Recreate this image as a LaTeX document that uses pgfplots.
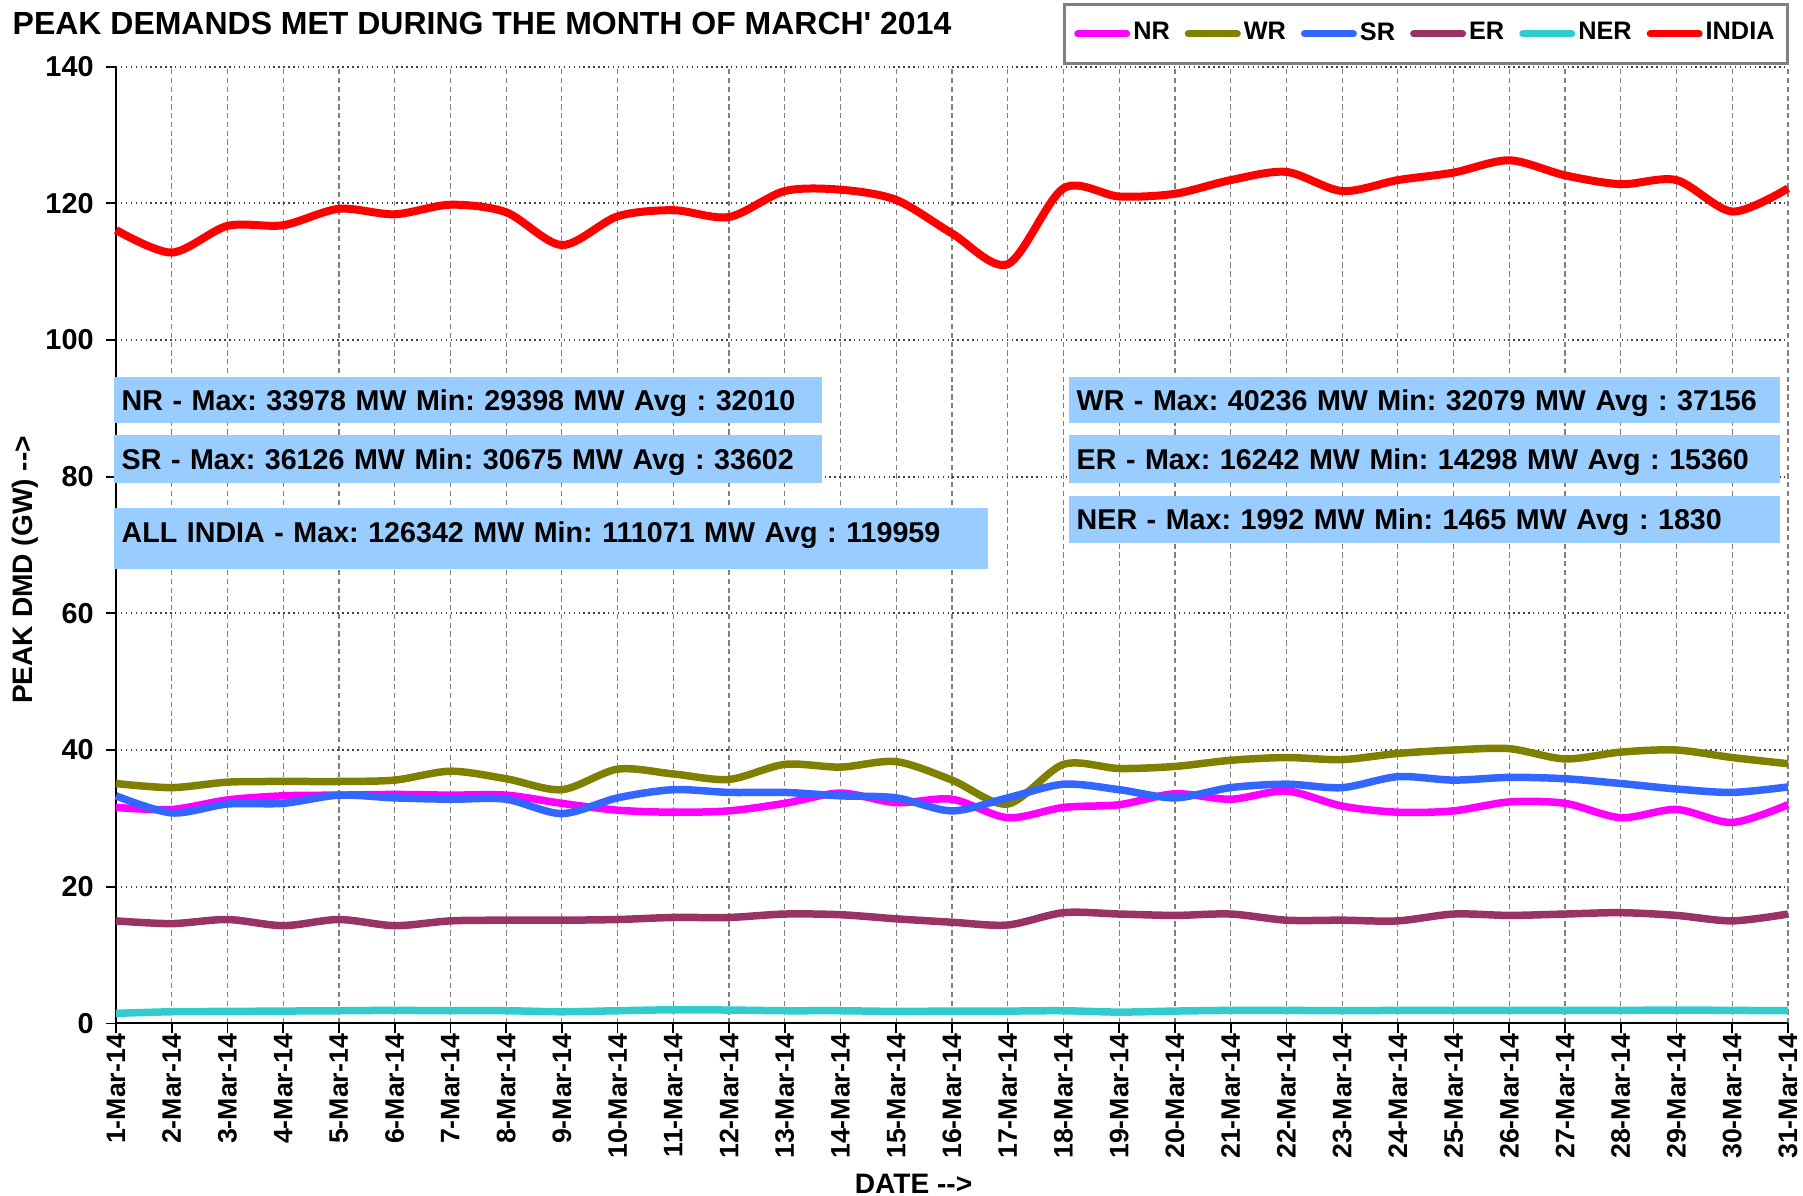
\documentclass[border=0pt]{standalone}
\usepackage{fontspec}
\setmainfont{Liberation Sans}
\usepackage{pgfplots}
\pgfplotsset{compat=1.18}
\definecolor{cNR}{HTML}{FF00FF}
\definecolor{cWR}{HTML}{808000}
\definecolor{cSR}{HTML}{3366FF}
\definecolor{cER}{HTML}{993366}
\definecolor{cNER}{HTML}{33CCCC}
\definecolor{cIN}{HTML}{FF0000}
\definecolor{boxblue}{HTML}{99CCFF}
\pgfplotstableread{
d NR WR SR ER NER IN
1 31.6 35.1 33.3 15.0 1.47 116.1
2 31.3 34.5 30.8 14.6 1.70 112.8
3 32.7 35.3 32.1 15.2 1.75 116.7
4 33.3 35.4 32.2 14.3 1.80 116.8
5 33.4 35.4 33.4 15.2 1.85 119.2
6 33.5 35.6 33.0 14.3 1.90 118.4
7 33.4 36.9 32.8 15.0 1.85 119.8
8 33.4 35.8 32.8 15.1 1.85 118.7
9 32.2 34.2 30.7 15.1 1.70 113.9
10 31.2 37.2 33.0 15.2 1.85 118.1
11 30.9 36.5 34.2 15.5 1.99 119.0
12 31.1 35.7 33.8 15.5 1.95 118.0
13 32.2 37.9 33.8 16.0 1.85 121.8
14 33.7 37.5 33.3 15.9 1.85 122.0
15 32.3 38.3 33.0 15.3 1.75 120.5
16 32.8 35.6 31.1 14.8 1.80 115.6
17 30.1 32.1 33.0 14.4 1.80 111.1
18 31.6 37.9 35.0 16.2 1.85 122.2
19 32.0 37.3 34.2 16.0 1.65 121.0
20 33.6 37.6 33.0 15.8 1.80 121.4
21 32.8 38.5 34.5 16.0 1.90 123.4
22 34.0 38.9 35.0 15.1 1.90 124.6
23 31.8 38.6 34.5 15.1 1.85 121.8
24 30.9 39.5 36.1 15.0 1.90 123.4
25 31.1 40.0 35.6 16.0 1.90 124.5
26 32.4 40.2 36.0 15.8 1.90 126.3
27 32.2 38.7 35.8 16.0 1.90 124.1
28 30.1 39.7 35.1 16.2 1.90 122.8
29 31.3 40.0 34.3 15.8 1.95 123.4
30 29.4 38.9 33.8 15.0 1.90 118.8
31 32.0 38.0 34.6 16.0 1.85 122.2
}\datatable
\tikzset{statbox/.style={fill=boxblue, inner xsep=0.8mm, inner ysep=0pt, anchor=west,
  font=\frenchspacing\bfseries\fontsize{8.15}{10}\selectfont, align=left, text height=2.2mm, text depth=0.1mm}}
\begin{document}
\frenchspacing
\begin{tikzpicture}
\begin{axis}[
  width=167.2mm, height=95.67mm, scale only axis,
  xmin=1, xmax=31, ymin=0, ymax=140,
  xtick={1,...,31}, ytick={0,20,...,140},
  xticklabel={\pgfmathparse{int(\tick)}\pgfmathresult-Mar-14},
  /pgf/number format/assume math mode=true,
  xticklabel style={rotate=90, anchor=east, inner xsep=0pt, font=\bfseries\fontsize{7.6}{8}\selectfont},
  yticklabel style={font=\bfseries\fontsize{8.2}{10}\selectfont},
  axis x line*=bottom, axis y line*=left,
  axis line style={-, black, line width=0.6pt},
  tick align=outside, major tick length=1mm,
  tick style={black, line width=0.5pt},
  grid=major,
  x grid style={dash pattern=on 1.5pt off 1pt, gray, line width=0.35pt},
  y grid style={densely dotted, black!75, line width=0.5pt},
  clip=false,
  every axis plot/.append style={line width=0.75mm, smooth, tension=0.5, no markers},
  legend columns=6,
  legend image code/.code={\draw[#1, line width=0.7mm, line cap=round] (0mm,0mm) -- (4.9mm,0mm);},
  legend style={at={(rel axis cs:1.0006,1.0666)}, anchor=north east, draw=gray, line width=0.8pt,
    font=\bfseries\fontsize{7.2}{8}\selectfont, inner xsep=1mm, inner ysep=1.1mm,
    /tikz/every even column/.append style={column sep=1.2mm},
    nodes={inner xsep=0.3mm}},
]
\addplot[cNR] table[x=d, y=NR] {\datatable};
\addplot[cWR] table[x=d, y=WR] {\datatable};
\addplot[cSR] table[x=d, y=SR] {\datatable};
\addplot[cER] table[x=d, y=ER] {\datatable};
\addplot[cNER] table[x=d, y=NER] {\datatable};
\addplot[cIN, line width=0.8mm] table[x=d, y=IN] {\datatable};
\legend{NR,WR,SR,ER,NER,INDIA}

\node[statbox, text width=69.2mm, minimum height=4.6mm] at (rel axis cs:-0.0018,0.6516) {NR - Max: 33978 MW Min: 29398 MW Avg : 32010};
\node[statbox, text width=69.2mm, minimum height=4.8mm] at (rel axis cs:-0.0018,0.5899) {SR - Max: 36126 MW Min: 30675 MW Avg : 33602};
\node[statbox, text width=85.8mm, minimum height=6.1mm, text depth=1.4mm] at (rel axis cs:-0.0018,0.5068) {ALL INDIA - Max: 126342 MW Min: 111071 MW Avg : 119959};
\node[statbox, text width=69.5mm, minimum height=4.6mm] at (rel axis cs:0.5694,0.6516) {WR - Max: 40236 MW Min: 32079 MW Avg : 37156};
\node[statbox, text width=69.5mm, minimum height=4.8mm] at (rel axis cs:0.5694,0.5899) {ER - Max: 16242 MW Min: 14298 MW Avg : 15360};
\node[statbox, text width=69.5mm, minimum height=4.7mm] at (rel axis cs:0.5694,0.5267) {NER - Max: 1992 MW Min: 1465 MW Avg : 1830};

\node[anchor=base west, font=\bfseries\fontsize{9.1}{10}\selectfont, inner sep=0pt] at (rel axis cs:-0.0622,1.0336) {PEAK DEMANDS MET DURING THE MONTH OF MARCH\textquotesingle{} 2014};
\node[rotate=90, font=\bfseries\fontsize{8}{10}\selectfont, inner sep=0pt] at (rel axis cs:-0.0544,0.474) {PEAK DMD (GW) -{}-{}>};
\node[font=\bfseries\fontsize{8}{10}\selectfont, inner sep=0pt] at (rel axis cs:0.477,-0.1672) {DATE -{}-{}>};
\end{axis}
\pgfresetboundingbox
\path (-11.6mm,-17.26mm) rectangle (168.7mm,102.34mm);
\end{tikzpicture}
\end{document}
